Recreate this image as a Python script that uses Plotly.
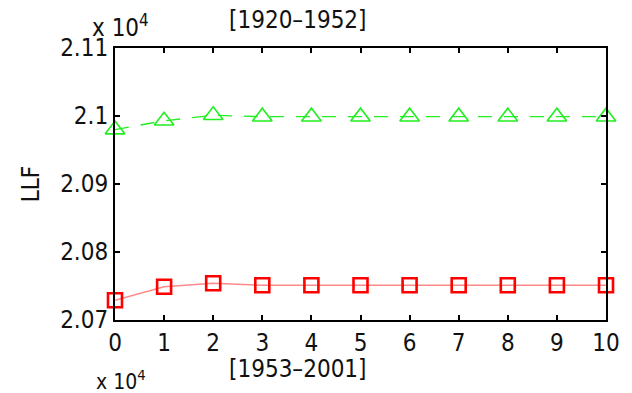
import plotly.graph_objects as go

# LLF values (in units of 10^4) against iteration index
x_vals = [0, 1, 2, 3, 4, 5, 6, 7, 8, 9, 10]
llf_1920_1952 = [2.0980, 2.0993, 2.1001, 2.0999, 2.0999, 2.0999, 2.0999, 2.0999, 2.0999, 2.0999, 2.0999]
llf_1953_2001 = [2.0729, 2.0749, 2.0754, 2.0751, 2.0751, 2.0751, 2.0751, 2.0751, 2.0751, 2.0751, 2.0751]

x_ticks = list(range(0, 11))
y_ticks = [2.07, 2.08, 2.09, 2.1, 2.11]
y_tick_text = ["2.07", "2.08", "2.09", "2.1", "2.11"]

FONT = "Liberation Sans Narrow, DejaVu Sans Condensed, Arial, sans-serif"
INK = "#111111"

fig = go.Figure()
fig.add_trace(go.Scatter(
    x=x_vals, y=llf_1920_1952, mode="lines+markers",
    line=dict(color="#22ee22", width=1.3, dash="14px,12px"),
    marker=dict(symbol="triangle-up-open", size=17, color="#22ee22",
                line=dict(width=1.6, color="#22ee22")),
    cliponaxis=False, showlegend=False,
))
fig.add_trace(go.Scatter(
    x=x_vals, y=llf_1953_2001, mode="lines+markers",
    line=dict(color="rgba(255,60,60,0.6)", width=1.6),
    marker=dict(symbol="square-open", size=14, color="#ff0000",
                line=dict(width=2.6, color="#ff0000")),
    cliponaxis=False, showlegend=False,
))

axis_common = dict(
    showgrid=False, zeroline=False, showline=True, linecolor="black",
    linewidth=2, mirror="allticks", ticks="inside", ticklen=5,
    tickwidth=2, tickcolor="black",
    tickfont=dict(family=FONT, size=24, color=INK),
)
fig.update_xaxes(range=[0, 10], tickvals=x_ticks, **axis_common)
fig.update_yaxes(range=[2.07, 2.11], tickvals=y_ticks, ticktext=y_tick_text,
                 title=dict(text="LLF", font=dict(family=FONT, size=24, color=INK),
                            standoff=14),
                 **axis_common)

# free text placed in pixel coordinates, converted to paper coordinates
annotations = [
    dict(text="[1920\u20131952]", x=300, y=20, size=24),
    dict(text="[1953\u20132001]", x=300, y=369, size=24),
    dict(text="x 10<sup>4</sup>", x=121, y=26, size=24),
    dict(text="x 10<sup>4</sup>", x=121, y=380, size=21),
]
fig_w, fig_h = 632, 393
ml, mr, mt, mb = 115, 21, 48, 73
pw, ph = fig_w - ml - mr, fig_h - mt - mb
for a in annotations:
    fig.add_annotation(
        x=(a["x"] - ml) / pw, y=1 - (a["y"] - mt) / ph, xref="paper", yref="paper",
        showarrow=False, font=dict(family=FONT, size=a["size"], color=INK),
        xanchor="center", yanchor="middle", text=a["text"],
    )

fig.update_layout(
    width=fig_w, height=fig_h,
    margin=dict(l=ml, r=mr, t=mt, b=mb),
    paper_bgcolor="white", plot_bgcolor="white",
)
fig.write_html("out.html")
